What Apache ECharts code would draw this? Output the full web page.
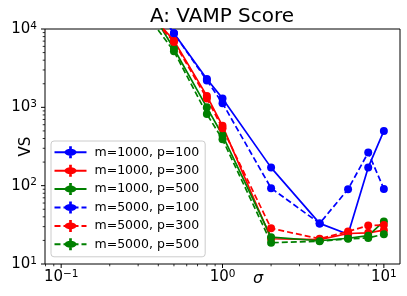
<!DOCTYPE html>
<html><head><meta charset="utf-8">
<script src="https://cdn.jsdelivr.net/npm/echarts@6/dist/echarts.min.js"></script>
<style>html,body{margin:0;padding:0;background:#fff}#c{width:407px;height:296px}</style>
</head><body><div id="c"></div>
<script>
// ---- data ----
const sigma = [0.1, 0.5, 0.8, 1.0, 2, 4, 6, 8, 10];
const seriesNames = ['m=1000, p=100', 'm=1000, p=300', 'm=1000, p=500',
                     'm=5000, p=100', 'm=5000, p=300', 'm=5000, p=500'];
const vs_m1000_p100 = [930000, 8800, 2300, 1300, 170, 33, 24, 171, 500];
const vs_m1000_p300 = [300000, 7100, 1400, 580, 21, 20.5, 24.5, 25, 27];
const vs_m1000_p500 = [1300000, 5600, 1000, 440, 22, 19.8, 21.3, 23, 35];
const vs_m5000_p100 = [930000, 8800, 2200, 1130, 93, 33, 90, 265, 91];
const vs_m5000_p300 = [280000, 6800, 1300, 540, 28.5, 21, 26, 31, 31.5];
const vs_m5000_p500 = [440000, 5200, 820, 390, 18.7, 19.5, 21, 21.5, 24];
const xTickValues = [0.1, 1, 10];
const yTickValues = [10, 100, 1000, 10000];

const XMIN = 0.0794, XMAX = 12.59, YMIN = 10, YMAX = 10000;
const colors = ['#0000ff', '#ff0000', '#008000', '#0000ff', '#ff0000', '#008000'];
const dashed = [false, false, false, true, true, true];
const allValues = [vs_m1000_p100, vs_m1000_p300, vs_m1000_p500, vs_m5000_p100, vs_m5000_p300, vs_m5000_p500];

// legend glyph: circle marker with vertical error bar
const errPath = 'path://M-1.3,-10L1.3,-10L1.3,10L-1.3,10Z M-5.8,0A5.8,5.8 0 1,1 5.8,0A5.8,5.8 0 1,1 -5.8,0Z';

function minorTicks(lo, hi) {
  const out = [];
  for (let e = -3; e <= 5; e++) for (let k = 2; k <= 9; k++) {
    const v = k * Math.pow(10, e);
    if (v > lo && v < hi) out.push(v);
  }
  return out;
}
const tickData = [];
xTickValues.forEach(v => tickData.push([v, YMIN, 0, 4]));
minorTicks(XMIN, XMAX).forEach(v => tickData.push([v, YMIN, 0, 2.3]));
yTickValues.forEach(v => tickData.push([XMIN, v, 1, 4]));
minorTicks(YMIN, YMAX).forEach(v => tickData.push([XMIN, v, 1, 2.3]));

function expLabel(v) {
  const e = Math.log10(v);
  const r = Math.round(e);
  if (Math.abs(e - r) > 1e-6) return '';
  return '{b|10}{s|' + String(r).replace('-', '\u2212') + '}';
}
const richLbl = {
  b: {fontSize: 15, lineHeight: 17, fontFamily: 'DejaVu Sans', color: '#000'},
  s: {fontSize: 10.5, lineHeight: 11, verticalAlign: 'top', fontFamily: 'DejaVu Sans', color: '#000'}
};

const series = seriesNames.map((name, i) => ({
  name: name,
  type: 'line',
  data: sigma.map((x, j) => ({value: [x, allValues[i][j]], symbol: 'circle'})),
  symbol: errPath,
  symbolSize: 8,
  lineStyle: {width: 1.7, color: colors[i], type: dashed[i] ? [6, 3] : 'solid'},
  itemStyle: {color: colors[i]},
  clip: true,
  animation: false
}));
series.push({
  type: 'custom',
  clip: false,
  silent: true,
  data: tickData,
  renderItem: function (params, api) {
    const p = api.coord([api.value(0), api.value(1)]);
    const len = api.value(3);
    const w = len > 3 ? 1 : 0.8;
    if (api.value(2) === 0) {
      return {type: 'line', shape: {x1: p[0], y1: p[1], x2: p[0], y2: p[1] + len}, style: {stroke: '#000', lineWidth: w}};
    }
    return {type: 'line', shape: {x1: p[0] - len, y1: p[1], x2: p[0], y2: p[1]}, style: {stroke: '#000', lineWidth: w}};
  },
  z: 5
});

const chart = echarts.init(document.getElementById('c'), null, {renderer: 'canvas'});
chart.setOption({
  animation: false,
  backgroundColor: '#fff',
  textStyle: {fontFamily: 'DejaVu Sans'},
  title: {
    text: 'A: VAMP Score', left: 217, textAlign: 'center', top: 2,
    textStyle: {fontSize: 20, fontWeight: 'normal', color: '#000', fontFamily: 'DejaVu Sans'}
  },
  grid: {left: 45, right: 7, top: 29, bottom: 32, show: true, borderColor: '#000', borderWidth: 1,
         backgroundColor: 'transparent', containLabel: false, outerBoundsMode: 'none'},
  xAxis: {
    type: 'log', logBase: 10, min: XMIN, max: XMAX,
    name: '\u03c3', nameLocation: 'middle', nameGap: 7, nameMoveOverlap: false,
    nameTextStyle: {fontSize: 16, fontStyle: 'italic', color: '#000', padding: [0, 0, 0, 71], fontFamily: 'DejaVu Sans'},
    axisLine: {show: false}, axisTick: {show: false}, splitLine: {show: false},
    axisLabel: {formatter: expLabel, rich: richLbl, margin: 5, showMinLabel: false, showMaxLabel: false, hideOverlap: false}
  },
  yAxis: {
    type: 'log', logBase: 10, min: YMIN, max: YMAX,
    name: 'VS', nameLocation: 'middle', nameGap: 11, nameRotate: 90, nameMoveOverlap: false,
    nameTextStyle: {fontSize: 15, color: '#000', fontFamily: 'DejaVu Sans'},
    axisLine: {show: false}, axisTick: {show: false}, splitLine: {show: false},
    axisLabel: {formatter: expLabel, rich: richLbl, margin: 8, hideOverlap: false}
  },
  legend: {
    orient: 'vertical', left: 51, top: 141,
    padding: [3.8, 6, 5, 2.5],
    itemWidth: 32, itemHeight: 15, itemGap: 3.4,
    backgroundColor: 'rgba(255,255,255,0.8)', borderColor: '#cccccc', borderWidth: 1, borderRadius: 3,
    textStyle: {fontSize: 12.5, color: '#000', padding: [0, 0, 0, 3], lineHeight: 15, fontFamily: 'DejaVu Sans'},
    data: seriesNames
  },
  series: series
});
</script></body></html>
